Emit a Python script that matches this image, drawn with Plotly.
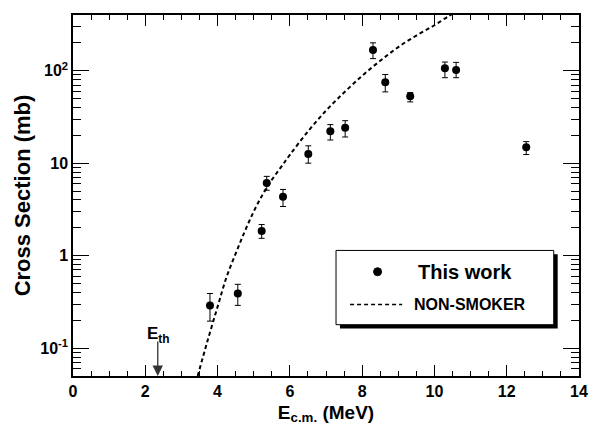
import numpy as np
import plotly.graph_objects as go

# Measured data ("This work")
e_cm = [3.79, 4.56, 5.22, 5.36, 5.81, 6.51, 7.12, 7.53, 8.30, 8.64, 9.33, 10.29, 10.60, 12.54]
sigma = [0.29, 0.39, 1.85, 6.1, 4.33, 12.6, 22.2, 24.1, 167, 75, 53, 106, 102, 14.9]
sigma_hi = [0.39, 0.49, 2.17, 7.2, 5.2, 15.4, 26.1, 28.8, 200, 91, 58, 124, 123, 17.1]
sigma_lo = [0.196, 0.29, 1.54, 5.1, 3.4, 10.0, 17.8, 19.2, 135, 59, 46, 84, 84, 12.4]

# NON-SMOKER theoretical curve
ns_e = [3.45, 3.7, 4.0, 4.25, 4.5, 4.75, 5.0, 5.25, 5.5, 5.75, 6.0, 6.5, 7.0, 7.5, 8.0, 8.5, 9.0, 9.5, 10.0, 10.4, 10.6]
ns_sigma = [0.050, 0.112, 0.28, 0.59, 1.05, 1.82, 3.0, 4.6, 6.6, 9.0, 12.3, 22, 37, 58, 88, 128, 180, 240, 310, 390, 430]

# Axis ticks
x_ticks = [0, 2, 4, 6, 8, 10, 12, 14]
y_tickvals = [0.1, 1, 10, 100]
y_ticktext = ["10<sup>-1</sup>", "1", "10", "10<sup>2</sup>"]

E_th = 2.345

FONT = "Liberation Sans"

err_plus = [h - v for h, v in zip(sigma_hi, sigma)]
err_minus = [v - l for v, l in zip(sigma, sigma_lo)]

fig = go.Figure()
fig.add_trace(go.Scatter(
    x=ns_e, y=ns_sigma, mode="lines", line=dict(color="black", width=2, dash="4px,3px", shape="spline"),
    showlegend=False))
fig.add_trace(go.Scatter(
    x=e_cm, y=sigma, mode="markers", marker=dict(color="black", size=8),
    error_y=dict(type="data", array=err_plus, arrayminus=err_minus, color="black", thickness=1, width=3),
    showlegend=False))

minor_y = []
for d in [0.01, 0.1, 1, 10, 100]:
    for k in range(2, 10):
        v = k * d
        if 0.05 <= v <= 400:
            minor_y.append(v)

L, R, T, B = 73, 11, 15, 48
W, H = 599, 431
pw, ph = W - L - R, H - T - B

def px(xp):
    return (xp - L) / pw

def py(yp):
    return (H - B - yp) / ph

fig.update_layout(
    width=W, height=H, margin=dict(l=L, r=R, t=T, b=B),
    paper_bgcolor="white", plot_bgcolor="white",
    font=dict(family=FONT, color="black", size=16),
    xaxis=dict(range=[0, 14], tickvals=x_ticks, ticks="inside", ticklen=11, tickwidth=1,
               tickcolor="black",
               showline=True, linecolor="black", linewidth=2, mirror="ticks", showgrid=False, zeroline=False,
               tickfont=dict(size=16, family=FONT, weight="bold"),
               minor=dict(dtick=0.5, ticks="inside", ticklen=5, tickwidth=1,
                          tickcolor="black", showgrid=False),
               title=dict(text="E<sub>c.m.</sub> (MeV)", font=dict(size=19, family=FONT, weight="bold"), standoff=6)),
    yaxis=dict(type="log", range=[np.log10(0.05), np.log10(400)], tickvals=y_tickvals,
               ticktext=y_ticktext, ticks="inside", ticklen=16, tickwidth=1, tickcolor="black",
               showline=True, linecolor="black", linewidth=1.5, mirror="ticks", showgrid=False, zeroline=False,
               tickfont=dict(size=16, family=FONT, weight="bold"),
               minor=dict(tickmode="array", tickvals=minor_y, ticks="inside", ticklen=8, tickwidth=1,
                          tickcolor="black", showgrid=False),
               title=dict(text="Cross Section (mb)", font=dict(size=22, family=FONT, weight="bold"), standoff=4)),
)

# Legend box (manual, with shadow)
bx0, bx1, by0, by1 = 340.7, 562.3, 255, 330.7
fig.add_shape(type="rect", xref="paper", yref="paper", x0=px(bx0 + 4), x1=px(bx1 + 4), y0=py(by1 + 4), y1=py(by0 + 4),
              fillcolor="black", line=dict(width=0), layer="above")
fig.add_shape(type="rect", xref="paper", yref="paper", x0=px(bx0), x1=px(bx1), y0=py(by1), y1=py(by0),
              fillcolor="white", line=dict(color="black", width=1), layer="above")
fig.add_shape(type="circle", xref="paper", yref="paper", xsizemode="pixel", ysizemode="pixel",
              xanchor=px(383), yanchor=py(276.7), x0=-4, x1=4, y0=-4, y1=4,
              fillcolor="black", line=dict(color="black", width=1), layer="above")
fig.add_shape(type="line", xref="paper", yref="paper", x0=px(355), x1=px(408), y0=py(310), y1=py(310),
              line=dict(color="black", width=1.5, dash="4px,3px"), layer="above")
fig.add_annotation(xref="paper", yref="paper", x=px(421.7), y=py(276.7), text="This work", showarrow=False,
                   xanchor="left", yanchor="middle", font=dict(size=20, family=FONT, weight="bold"))
fig.add_annotation(xref="paper", yref="paper", x=px(418), y=py(310), text="NON-SMOKER", showarrow=False,
                   xanchor="left", yanchor="middle", font=dict(size=16, family=FONT, weight="bold"))

# Threshold arrow
fig.add_annotation(x=E_th, y=np.log10(0.05), xref="x", yref="y", text="", showarrow=True,
                   ax=0, ay=-36, arrowhead=2, arrowsize=1.6, arrowwidth=1.3, arrowcolor="#333", standoff=0)
fig.add_annotation(x=E_th + 0.02, y=-0.86, xref="x", yref="y", text="E<sub>th</sub>", showarrow=False,
                   xanchor="center", yanchor="middle", font=dict(size=17, family=FONT, weight="bold"))

fig.write_html("out.html")
